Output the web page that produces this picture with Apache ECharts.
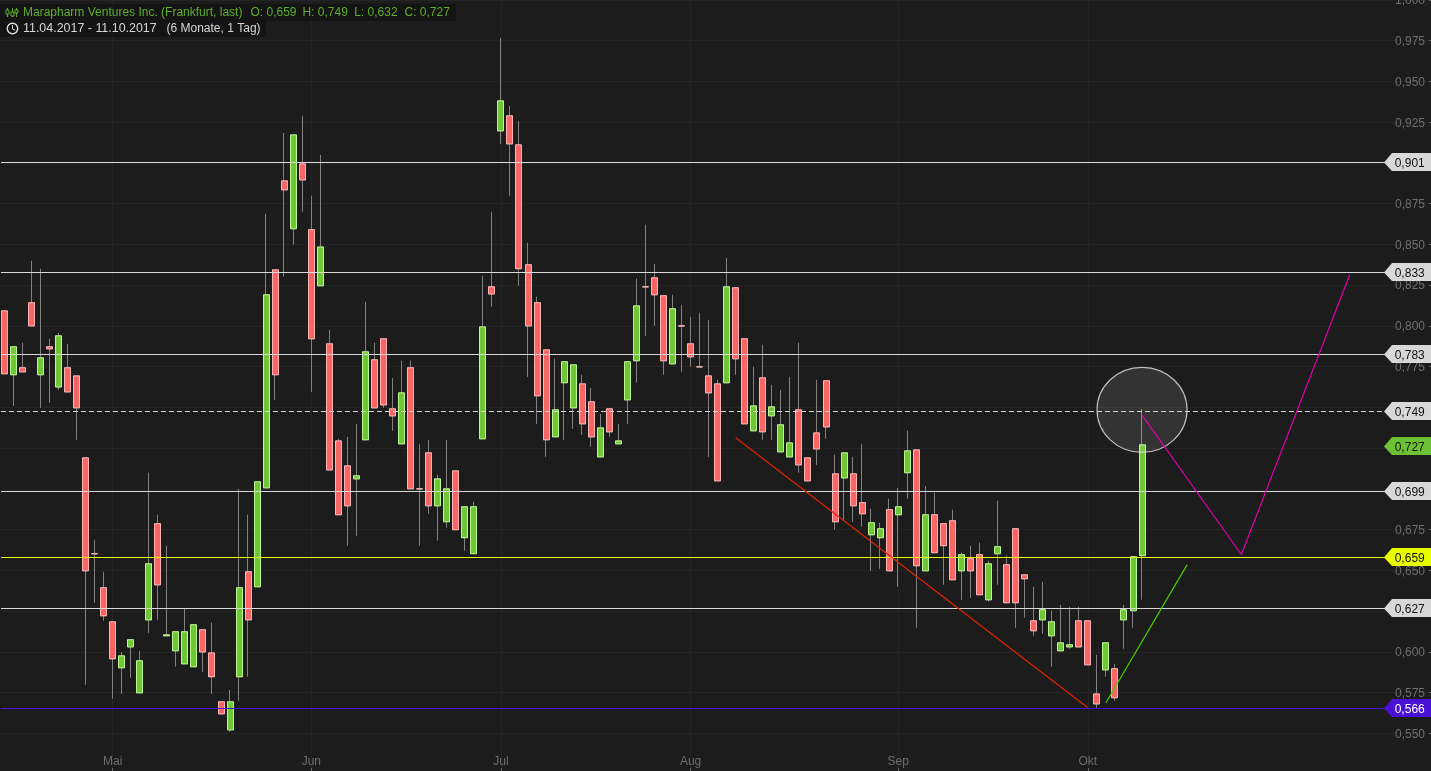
<!DOCTYPE html>
<html>
<head>
<meta charset="utf-8">
<title>Marapharm Ventures Inc.</title>
<style>html,body{margin:0;padding:0;background:#1c1c1c;overflow:hidden}#chart{width:1431px;height:771px}</style>
<script src="https://cdn.jsdelivr.net/npm/echarts@6/dist/echarts.min.js"></script>
</head>
<body>
<div id="chart"></div>
<script>
const opens = [
.8092,.7700,.7743,.8142,.7700,.7872,.7625,.7743,.7693,.7190,
.6602,.6393,.6184,.5902,.6030,.5748,.6196,.6786,.6098,.6006,
.5926,.5908,.6135,.5993,.5693,.5521,.5847,.6491,.6399,.7006,
.8344,.8890,.8596,.8994,.8590,.8246,.7890,.7294,.7141,.7061,
.7301,.7792,.7921,.7491,.7276,.7743,.7000,.7221,.6896,.6798,
.7110,.6700,.6602,.7307,.8240,.9197,.9289,.9111,.8375,.8142,
.7853,.7319,.7651,.7497,.7644,.7534,.7196,.7491,.7276,.7546,
.7786,.8240,.8295,.8185,.7767,.8000,.7890,.7749,.7693,.7644,
.7651,.8234,.7921,.7356,.7681,.7448,.7227,.7196,.7485,.7190,
.7343,.7663,.7092,.7067,.7092,.6915,.6718,.6700,.6872,.6841,
.7099,.7239,.6497,.6841,.6786,.6804,.6497,.6571,.6596,.6319,
.6602,.6534,.6755,.6472,.6190,.6196,.6098,.6006,.6030,.6190,
.6190,.5741,.5889,.5896,.6196,.6252,.659];
const closes = [
.7706,.7872,.7718,.8000,.7804,.7859,.7939,.7595,.7497,.6497,
.6602,.6221,.5957,.5975,.6074,.5945,.6540,.6411,.6104,.6123,
.6123,.6166,.5999,.5847,.5619,.5693,.6393,.6196,.7043,.8191,
.7700,.8835,.9172,.8896,.7921,.8484,.7116,.6841,.6896,.7080,
.7841,.7497,.7515,.7448,.7589,.7000,.7000,.6896,.7061,.7000,
.6749,.6890,.6890,.7994,.8196,.9381,.9117,.8351,.8000,.7571,
.7301,.7485,.7780,.7761,.7399,.7319,.7374,.7350,.7294,.7780,
.8123,.8240,.8191,.7786,.8105,.8000,.7810,.7749,.7589,.7049,
.8240,.7798,.7399,.7509,.7350,.7503,.7393,.7282,.7147,.7049,
.7245,.7380,.6798,.7221,.6896,.6847,.6792,.6755,.6497,.6890,
.7233,.6528,.6841,.6608,.6651,.6442,.6596,.6497,.6350,.6540,
.6645,.6301,.6301,.6448,.6129,.6258,.6184,.6055,.6043,.6030,
.5920,.5680,.6055,.5718,.6258,.6583,.727];
const lows = [
.7706,.7509,.7718,.8000,.7497,.7528,.7607,.7595,.7301,.5797,
.6301,.6190,.5711,.5741,.5841,.5748,.6116,.6196,.6098,.5908,
.5926,.5908,.5877,.5741,.5619,.5509,.5699,.5847,.6399,.7006,
.7546,.8301,.8498,.8700,.7595,.8246,.7116,.6841,.6651,.6712,
.7301,.7497,.7497,.7356,.7276,.7000,.6651,.6847,.6682,.6761,
.6749,.6620,.6602,.7307,.8117,.9117,.8799,.8246,.7687,.7399,
.7196,.7319,.7301,.7368,.7331,.7258,.7196,.7319,.7276,.7399,
.7651,.7939,.8000,.7700,.7767,.7718,.7749,.7743,.7196,.7049,
.7651,.7700,.7399,.7356,.7301,.7301,.7227,.7196,.7099,.7049,
.7147,.7307,.6749,.6810,.6798,.6767,.6497,.6509,.6497,.6399,
.6939,.6147,.6497,.6608,.6411,.6442,.6319,.6331,.6350,.6307,
.6411,.6301,.6147,.6209,.6098,.6110,.5908,.6006,.6018,.6030,
.5920,.5656,.5847,.5699,.6018,.6147,.632];
const highs = [
.8092,.7872,.7896,.8400,.8351,.7921,.7957,.7890,.7693,.7190,
.6688,.6491,.6184,.5999,.6074,.6006,.7099,.6841,.6651,.6123,
.6264,.6166,.6135,.6178,.5693,.5766,.7000,.6841,.7043,.8688,
.8344,.9184,.9172,.9289,.8799,.9049,.7976,.7307,.7319,.7399,
.8148,.7896,.7921,.7681,.7786,.7786,.7276,.7301,.7086,.7301,
.7110,.6890,.6921,.8308,.8700,.9768,.9350,.9258,.8510,.8179,
.7853,.7798,.7780,.7761,.7700,.7619,.7460,.7491,.7399,.7780,
.8289,.8621,.8381,.8185,.8191,.8129,.8056,.8080,.8037,.7669,
.8418,.8234,.7921,.7749,.7884,.7638,.7607,.7687,.7896,.7190,
.7669,.7663,.7208,.7221,.7196,.7276,.6878,.6792,.6939,.7006,
.7356,.7239,.7018,.6976,.6786,.6872,.6608,.6651,.6669,.6559,
.6927,.6590,.6755,.6472,.6399,.6430,.6252,.6288,.6276,.6276,
.6190,.5981,.6055,.5926,.6288,.6583,.749];

const monthNames = ['Mai','Jun','Jul','Aug','Sep','Okt'];
const monthStarts = [12,34,55,76,99,120];
const yTicks = {min:0.525, max:1.0, step:0.025};

const levelValues = [.9005,.8329,.7825,.7475,.7258,.6985,.6580,.6266,.5654];
const levelLabels = ['0,901','0,833','0,783','0,749','0,727','0,699','0,659','0,627','0,566'];
const levelFills  = ['#d8d8d8','#d8d8d8','#d8d8d8','#d8d8d8','#6cc234','#d8d8d8','#e8ff00','#d8d8d8','#4a10d6'];
const levelInks   = ['#111','#111','#111','#111','#111','#111','#111','#111','#fff'];
const levelHasLine = [1,1,1,2,0,1,1,1,1];

const redTrendX = [81,120], redTrendY = [.7313,.5656];
const greenTrendX = [122,131], greenTrendY = [.5687,.6535];
const pinkTrendX = [126,137,149], pinkTrendY = [.7453,.6597,.8314];
const circleX = 126, circleY = .7485;

const headLine = [
  ['Marapharm Ventures Inc. (Frankfurt, last)',23],
  ['O: 0,659',250.5],['H: 0,749',302.5],['L: 0,632',354.2],['C: 0,727',404.5]
];
const dateRange = '11.04.2017 - 11.10.2017';
const rangeNote = '(6 Monate, 1 Tag)';

const CATS = 160;
const categories = new Array(CATS).fill('');
monthStarts.forEach((s,i)=>{categories[s+1]=monthNames[i];});
const isMonth = (i,v)=>v!=='';

const wickRows = opens.map((o,i)=>[i+1,o,closes[i],lows[i],highs[i]]);
const bodyRows = opens.map((o,i)=>[i+1,o,closes[i],Math.min(o,closes[i]),Math.max(o,closes[i])]);
const FONT = '12px "Liberation Sans", Arial, sans-serif';
const pts = (xs,ys)=>xs.map((x,i)=>[x+1,ys[i]]);

function trend(data,color){
  return {type:'line',data,symbol:'none',silent:true,z:8,clip:false,animation:false,
    lineStyle:{color,width:1.2}};
}

const green='#5fae2c';
const graphicEls = [
  {type:'rect',shape:{x:0,y:4,width:456,height:17},style:{fill:'#141414'},z:100},
  {type:'rect',shape:{x:0,y:21,width:266,height:16},style:{fill:'#141414'},z:100}
];
headLine.forEach(t=>graphicEls.push({type:'text',z:101,style:{text:t[0],x:t[1],y:13,fill:green,font:FONT,textVerticalAlign:'middle'}}));
graphicEls.push({type:'text',z:101,style:{text:dateRange,x:23,y:29,fill:'#d6d6d6',font:'12.45px "Liberation Sans", Arial, sans-serif',textVerticalAlign:'middle'}});
graphicEls.push({type:'text',z:101,style:{text:rangeNote,x:166.5,y:29,fill:'#d6d6d6',font:FONT,textVerticalAlign:'middle'}});
[[7.5,8,17,10,14],[12.5,8,17,12,16],[16.5,8,17,10,13]].forEach(c=>{
  graphicEls.push({type:'line',z:101,shape:{x1:c[0],y1:c[1],x2:c[0],y2:c[2]},style:{stroke:green,lineWidth:1}});
  graphicEls.push({type:'rect',z:101,shape:{x:c[0]-1.5,y:c[3],width:3,height:c[4]-c[3]},style:{fill:'#141414',stroke:green,lineWidth:1}});
});
graphicEls.push({type:'circle',z:101,shape:{cx:12.5,cy:28.5,r:5.2},style:{fill:'none',stroke:'#e0e0e0',lineWidth:1.4}});
graphicEls.push({type:'polyline',z:101,shape:{points:[[12.5,25],[12.5,29],[15,30]]},style:{fill:'none',stroke:'#e0e0e0',lineWidth:1}});

const option = {
  backgroundColor:'#1c1c1c',
  animation:false,
  textStyle:{fontFamily:'"Liberation Sans", Arial, sans-serif'},
  grid:{left:-4.73,top:0,width:1435.73,height:774,containLabel:false,outerBoundsMode:'none'},
  xAxis:{
    type:'category',data:categories,boundaryGap:false,
    axisLine:{show:false},
    axisTick:{show:true,inside:true,length:6,interval:isMonth,lineStyle:{color:'#666'}},
    axisLabel:{show:true,inside:true,margin:6,interval:isMonth,color:'#6e6e6e',fontSize:12,hideOverlap:false},
    splitLine:{show:true,interval:isMonth,lineStyle:{color:'#242424',width:1}}
  },
  yAxis:{
    type:'value',position:'right',min:yTicks.min,max:yTicks.max,interval:yTicks.step,scale:true,
    axisLine:{show:false},
    axisTick:{show:true,inside:true,length:2,lineStyle:{color:'#666'}},
    axisLabel:{show:true,inside:true,margin:6,color:'#6e6e6e',fontSize:12,verticalAlign:'top',lineHeight:2,
      formatter:v=>v<=yTicks.min?'':v.toFixed(3).replace('.',',')},
    splitLine:{show:true,lineStyle:{color:'#242424',width:1}}
  },
  graphic:{elements:graphicEls},
  series:[
    {type:'candlestick',name:'wicks',data:wickRows,encode:{x:0,y:[1,2,3,4]},barWidth:6.5,silent:true,z:3,
      itemStyle:{color:'transparent',color0:'transparent',borderColor:'#808080',borderColor0:'#808080',borderColorDoji:'#808080',borderWidth:1}},
    {type:'candlestick',name:'bodies',data:bodyRows,encode:{x:0,y:[1,2,3,4]},barWidth:6.5,silent:true,z:4,
      itemStyle:{color:'#6fc636',color0:'#f76565',borderColor:'#bdf78f',borderColor0:'#ffb5b5',borderColorDoji:'#ffb5b5',borderWidth:1}},
    {type:'custom',name:'circle',coordinateSystem:'cartesian2d',z:5,silent:true,clip:false,
      data:[[circleX+1,circleY]],encode:{x:0,y:1},
      renderItem(p,api){
        const c=api.coord([api.value(0),api.value(1)]);
        return {type:'ellipse',shape:{cx:c[0],cy:c[1],rx:45,ry:42.5},
          style:{fill:'rgba(255,255,255,0.10)',stroke:'rgba(215,215,215,0.85)',lineWidth:1.2}};
      }},
    {type:'custom',name:'levels',coordinateSystem:'cartesian2d',z:6,silent:true,clip:false,
      data:levelValues.map(v=>[1,v]),encode:{x:0,y:1},
      renderItem(p,api){
        const i=p.dataIndex;
        const y=Math.floor(api.coord([1,api.value(1)])[1]);
        const kids=[];
        const fill=levelFills[i];
        if(levelHasLine[i]){
          kids.push({type:'line',shape:{x1:1,y1:y+.5,x2:1385,y2:y+.5},
            style:{stroke:fill,lineWidth:1,lineDash:levelHasLine[i]===2?[5,3]:null}});
        }
        kids.push({type:'polygon',shape:{points:[[1384,y+.5],[1392,y-9],[1431,y-9],[1431,y+9],[1392,y+9]]},style:{fill}});
        kids.push({type:'text',style:{text:levelLabels[i],x:1394.7,y:y+1.5,fill:levelInks[i],font:FONT,textVerticalAlign:'middle'}});
        return {type:'group',children:kids};
      }},
    trend(pts(redTrendX,redTrendY),'#dd2200'),
    trend(pts(greenTrendX,greenTrendY),'#4ccc00'),
    trend(pts(pinkTrendX,pinkTrendY),'#dd00aa')
  ]
};
const chart = echarts.init(document.getElementById('chart'),null,{renderer:'canvas',width:1431,height:771});
chart.setOption(option);
</script>
</body>
</html>
